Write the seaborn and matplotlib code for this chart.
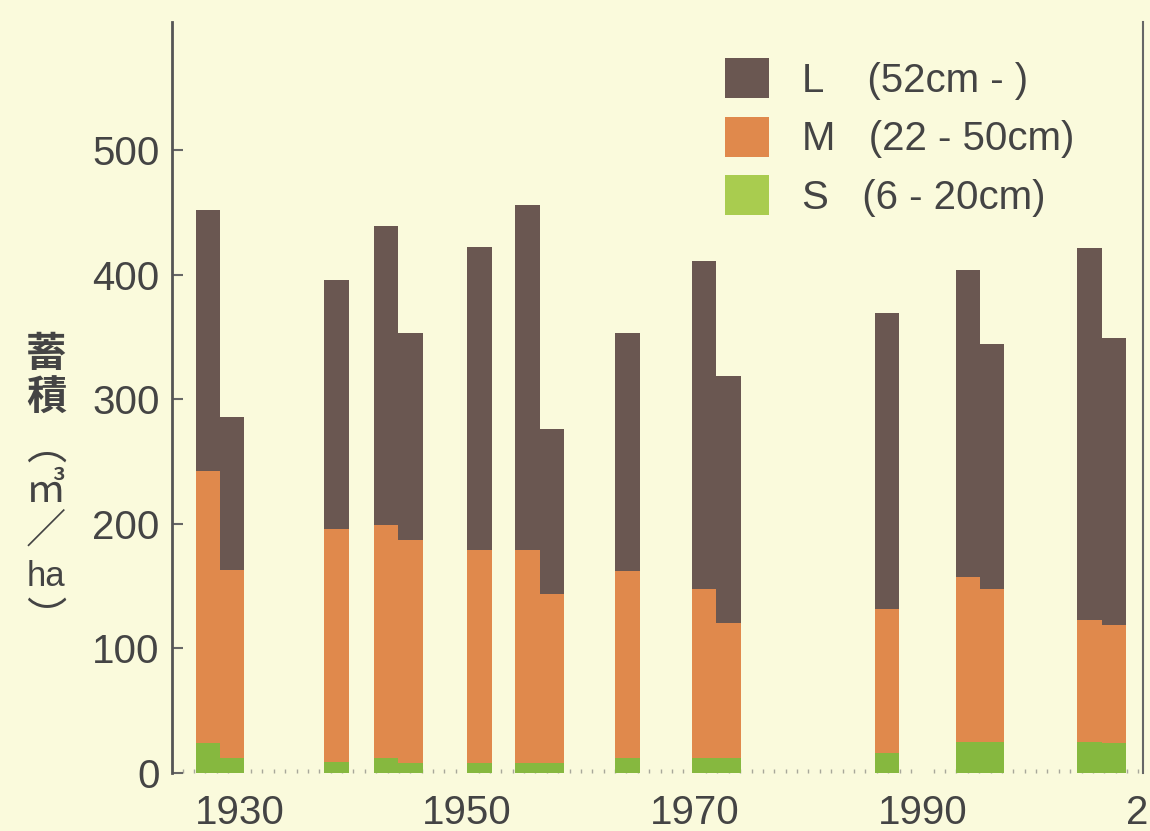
import pandas as pd
import matplotlib
matplotlib.use('Agg')
import matplotlib.pyplot as plt
from matplotlib.patches import Patch
from matplotlib.ticker import MultipleLocator
import seaborn as sns

# survey years (bar centres) and stand volume (m3/ha) by diameter class
years = [1927.2, 1929.35, 1938.5, 1942.85, 1945.0, 1951.1, 1955.3, 1957.45,
         1964.1, 1970.8, 1972.95, 1986.9, 1994.0, 1996.15, 2004.7, 2006.85]
vol_L = [210, 123, 200, 240, 166, 243, 277, 132, 191, 263, 199, 237, 247, 196, 298, 230]
vol_M = [218, 151, 187, 187, 179, 171, 171, 136, 150, 136, 108, 116, 132, 123, 98, 95]
vol_S = [24, 12, 9, 12, 8, 8, 8, 8, 12, 12, 12, 16, 25, 25, 25, 24]

class_labels = ['L    (52cm - )', 'M   (22 - 50cm)', 'S   (6 - 20cm)']
year_ticks = [1930, 1950, 1970, 1990]
vol_ticks = [0, 100, 200, 300, 400, 500]

bg = '#FAFADC'
text_col = '#444444'
col_L = '#6A5751'
col_M = '#E0894C'
col_S = '#86B83F'
col_S_leg = '#A9CC4F'

sns.set_theme(style='white', rc={'axes.facecolor': bg, 'figure.facecolor': bg,
                                 'savefig.facecolor': bg})
plt.rcParams['font.family'] = ['Liberation Sans', 'Noto Sans CJK JP', 'DejaVu Sans']

df = pd.DataFrame({'year': years, 'L': vol_L, 'M': vol_M, 'S': vol_S})
df['S_top'] = df['S']
df['M_top'] = df['S'] + df['M']
df['L_top'] = df['M_top'] + df['L']

fig = plt.figure(figsize=(11.5, 8.31), dpi=100)
ax = fig.add_axes([0.1496, 0.0698, 0.8443, 0.9037])

# stacked bars: draw cumulative totals from the top class down
for col, c in [('L_top', col_L), ('M_top', col_M), ('S_top', col_S)]:
    sns.barplot(data=df, x='year', y=col, native_scale=True, color=c,
                saturation=1, width=1, errorbar=None, linewidth=0, ax=ax)

ax.set_xlim(1924.06, 2009.4)
ax.set_ylim(0, 602.7)
ax.set_xticks(year_ticks)
ax.set_yticks(vol_ticks)
ax.xaxis.set_minor_locator(MultipleLocator(1))
ax.set_xlabel('')
ax.set_ylabel('')
ax.set_axisbelow(True)

ax.tick_params(axis='x', which='major', length=0, pad=15, labelsize=29,
               labelcolor=text_col, bottom=True)
ax.tick_params(axis='x', which='minor', direction='in', length=3, width=1,
               color='#a8a89a', bottom=True)
ax.tick_params(axis='y', direction='in', length=8, width=1.5, color='#666666',
               pad=9, labelsize=29, labelcolor=text_col, left=True)

ax.spines['top'].set_visible(False)
ax.spines['bottom'].set_visible(False)
ax.spines['left'].set_color('#555555')
ax.spines['left'].set_linewidth(2)
ax.spines['right'].set_color('#666666')
ax.spines['right'].set_linewidth(1.5)

handles = [Patch(facecolor=c, edgecolor='none') for c in [col_L, col_M, col_S_leg]]
leg = ax.legend(handles, class_labels, loc='upper left', bbox_to_anchor=(0.5695, 0.952),
                frameon=False, fontsize=29, handlelength=1.1, handleheight=1.15,
                handletextpad=0.8, labelspacing=0.42, borderpad=0, borderaxespad=0)
for t in leg.get_texts():
    t.set_color(text_col)

# vertical (tategaki) y-axis label
for ch, ypx in [('蓄', 354), ('積', 398), ('︵', 447), ('㎥', 490), ('／', 531), ('︶', 620)]:
    fig.text(46 / 1150, 1 - ypx / 831, ch, ha='center', va='center', fontsize=29,
             weight='bold' if ch in '蓄積' else 'normal', color=text_col,
             family=['Noto Sans CJK JP'])
fig.text(46 / 1150, 1 - 577 / 831, 'ha', ha='center', va='center', fontsize=25,
         color=text_col)

# 2010 label, cut off by the right edge
fig.text(1126 / 1150, 1 - 813 / 831, '2010', ha='left', va='center', fontsize=29,
         color=text_col)

fig.savefig('out.png', dpi=100, facecolor=bg)
